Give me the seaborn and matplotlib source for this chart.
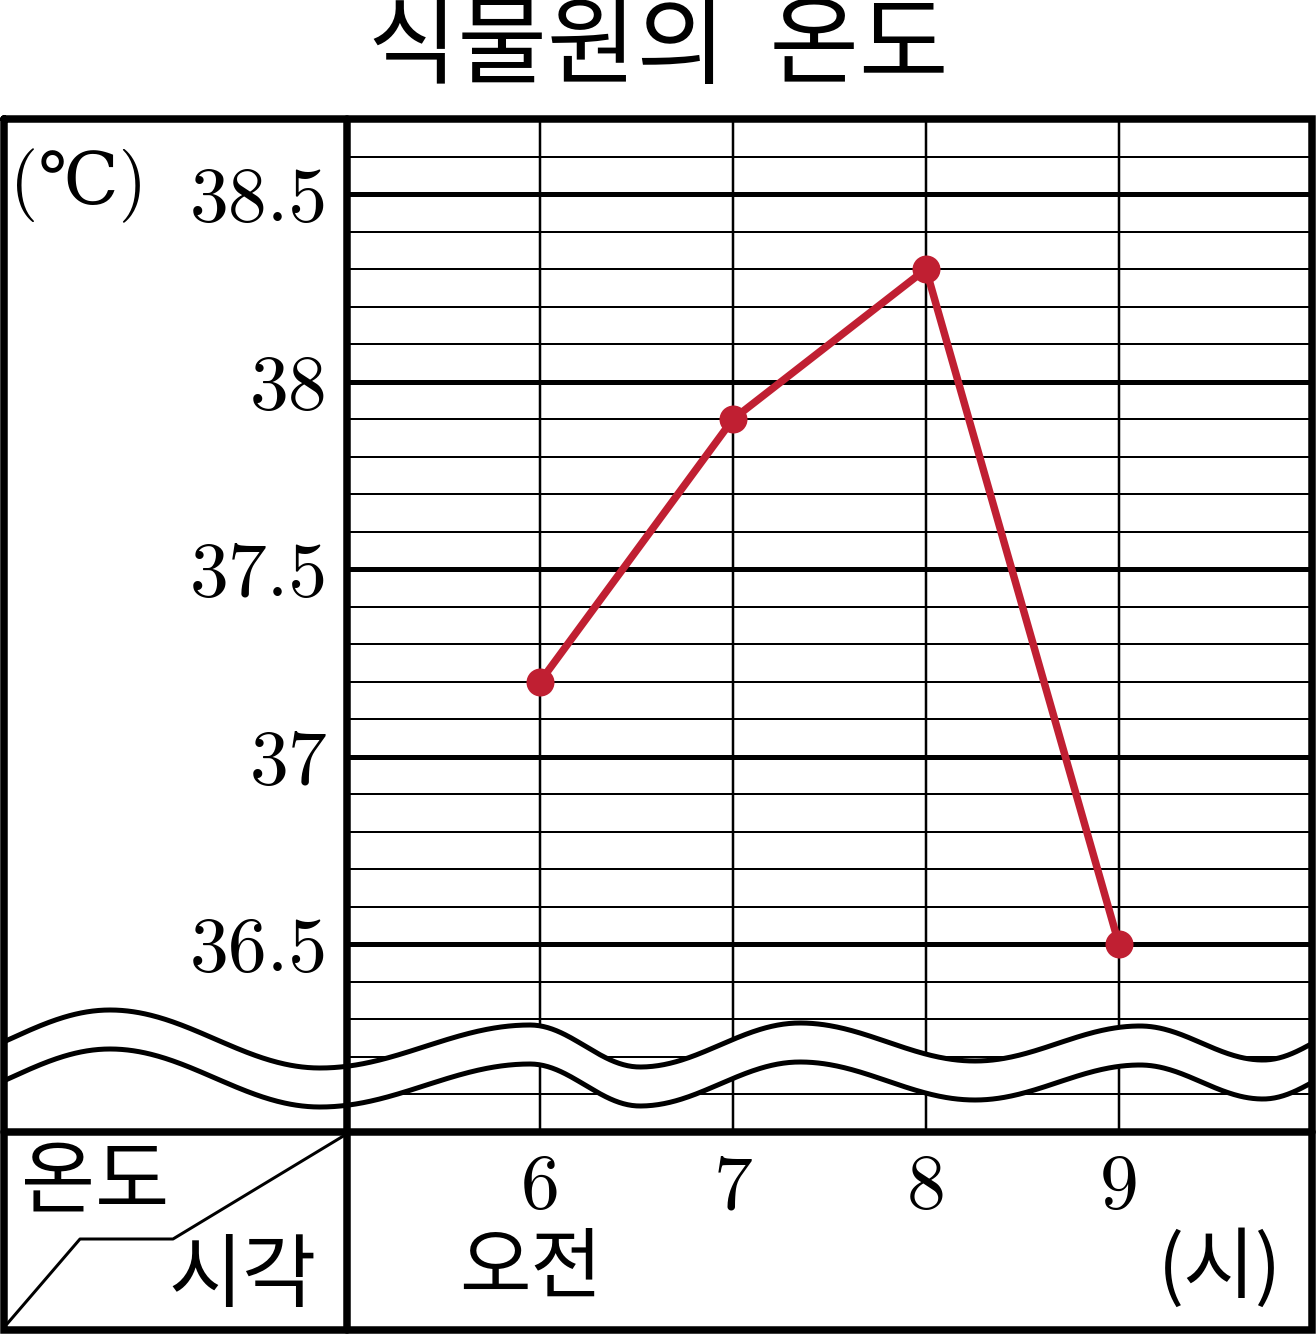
import numpy as np
import pandas as pd
import matplotlib
matplotlib.use('Agg')
import matplotlib.pyplot as plt
import seaborn as sns

# data
hours = [6, 7, 8, 9]
temps = [37.2, 37.9, 38.3, 36.5]
hour_labels = ['6', '7', '8', '9']
major_ticks = [36.5, 37.0, 37.5, 38.0, 38.5]
major_labels = ['36.5', '37', '37.5', '38', '38.5']

title = '식물원의  온도'
unit_y = '(℃)'
unit_x = '(시)'
am_label = '오전'
corner_top = '온도'
corner_bottom = '시각'

sns.set_style('white')
plt.rcParams['font.family'] = ['Noto Sans CJK KR', 'DejaVu Sans']
plt.rcParams['text.color'] = 'black'
plt.rcParams['xtick.color'] = 'black'
plt.rcParams['ytick.color'] = 'black'

W, H = 1316, 1334
fig = plt.figure(figsize=(W / 100, H / 100), dpi=100)
PX = 0.72  # points per pixel

red = '#c01f32'
num_font = ['cmr10', 'DejaVu Serif', 'Noto Sans CJK KR']
kor_font = ['Noto Sans CJK KR', 'DejaVu Sans']

# plot area (pixel box)
x0, x1, y0, y1 = 347, 1312, 119, 1132
ax = fig.add_axes([x0 / W, (H - y1) / H, (x1 - x0) / W, (y1 - y0) / H])
df = pd.DataFrame({'hour': hours, 'temp': temps})
sns.lineplot(data=df, x='hour', y='temp', ax=ax, color=red, lw=7.5 * PX,
             marker='o', markersize=28 * PX, markeredgewidth=0, zorder=10)
ax.set_xlim(5, 10)
ax.set_ylim(36.0, 38.7)
ax.set_xticks(hours)
ax.set_xticklabels(hour_labels, family=num_font, fontsize=56, color='black')
ax.set_yticks(major_ticks)
ax.set_yticklabels(major_labels, family=num_font, fontsize=56, color='black')
ax.set_yticks(np.arange(36.0, 38.75, 0.1), minor=True)
ax.tick_params(axis='both', which='both', length=0)
ax.tick_params(axis='y', pad=14)
ax.tick_params(axis='x', pad=16)
ax.grid(True, axis='y', which='major', color='black', lw=5 * PX)
ax.grid(True, axis='y', which='minor', color='black', lw=2 * PX)
ax.grid(True, axis='x', which='major', color='black', lw=2.5 * PX)
ax.set_axisbelow(True)
ax.set_xlabel('')
ax.set_ylabel('')
for s in ax.spines.values():
    s.set_visible(False)

# overlay in pixel coordinates for frame, break wave and texts
ov = fig.add_axes([0, 0, 1, 1], zorder=5)
ov.set_xlim(0, W)
ov.set_ylim(H, 0)
ov.axis('off')
ov.patch.set_visible(False)

# axis break: two wavy lines with white band between
ext = [(-90, 1068), (110, 1010), (320, 1068), (530, 1025), (640, 1067),
       (800, 1023), (975, 1061), (1140, 1026), (1263, 1060), (1370, 1022)]
ex = np.array([p[0] for p in ext], float)
ey = np.array([p[1] for p in ext], float)
wx = np.linspace(4, 1311, 900)
idx = np.clip(np.searchsorted(ex, wx) - 1, 0, len(ex) - 2)
t = (wx - ex[idx]) / (ex[idx + 1] - ex[idx])
top = ey[idx] + (ey[idx + 1] - ey[idx]) * (1 - np.cos(np.pi * t)) / 2
bot = top + 39
ov.fill_between(wx, top, bot, color='white', zorder=3)
ov.plot(wx, top, color='black', lw=5 * PX, zorder=4, solid_capstyle='butt')
ov.plot(wx, bot, color='black', lw=5 * PX, zorder=4, solid_capstyle='butt')

# frame
fw = 7.5 * PX
ov.plot([3.5, 1312, 1312, 3.5, 3.5], [119, 119, 1330, 1330, 119],
        color='black', lw=fw, zorder=6, solid_joinstyle='miter')
ov.plot([347, 347], [119, 1330], color='black', lw=fw, zorder=6)
ov.plot([3.5, 1312], [1132, 1132], color='black', lw=fw, zorder=6)

# corner diagonal
ov.plot([7, 80, 173, 345], [1324, 1239, 1239, 1135], color='black',
        lw=3 * PX, zorder=6)

# texts
ov.text(658, 48, title, family=kor_font, fontsize=70, ha='center',
        va='center', zorder=7)
ov.text(78, 186, unit_y, family=num_font, fontsize=52, ha='center',
        va='center', zorder=7)
ov.text(95, 1183, corner_top, family=kor_font, fontsize=58, ha='center',
        va='center', zorder=7)
ov.text(243, 1278, corner_bottom, family=kor_font, fontsize=58, ha='center',
        va='center', zorder=7)
ov.text(531, 1270, am_label, family=kor_font, fontsize=56, ha='center',
        va='center', zorder=7)
ov.text(1220, 1270, unit_x, family=kor_font, fontsize=56, ha='center',
        va='center', zorder=7)

fig.savefig('out.png', dpi=100)
